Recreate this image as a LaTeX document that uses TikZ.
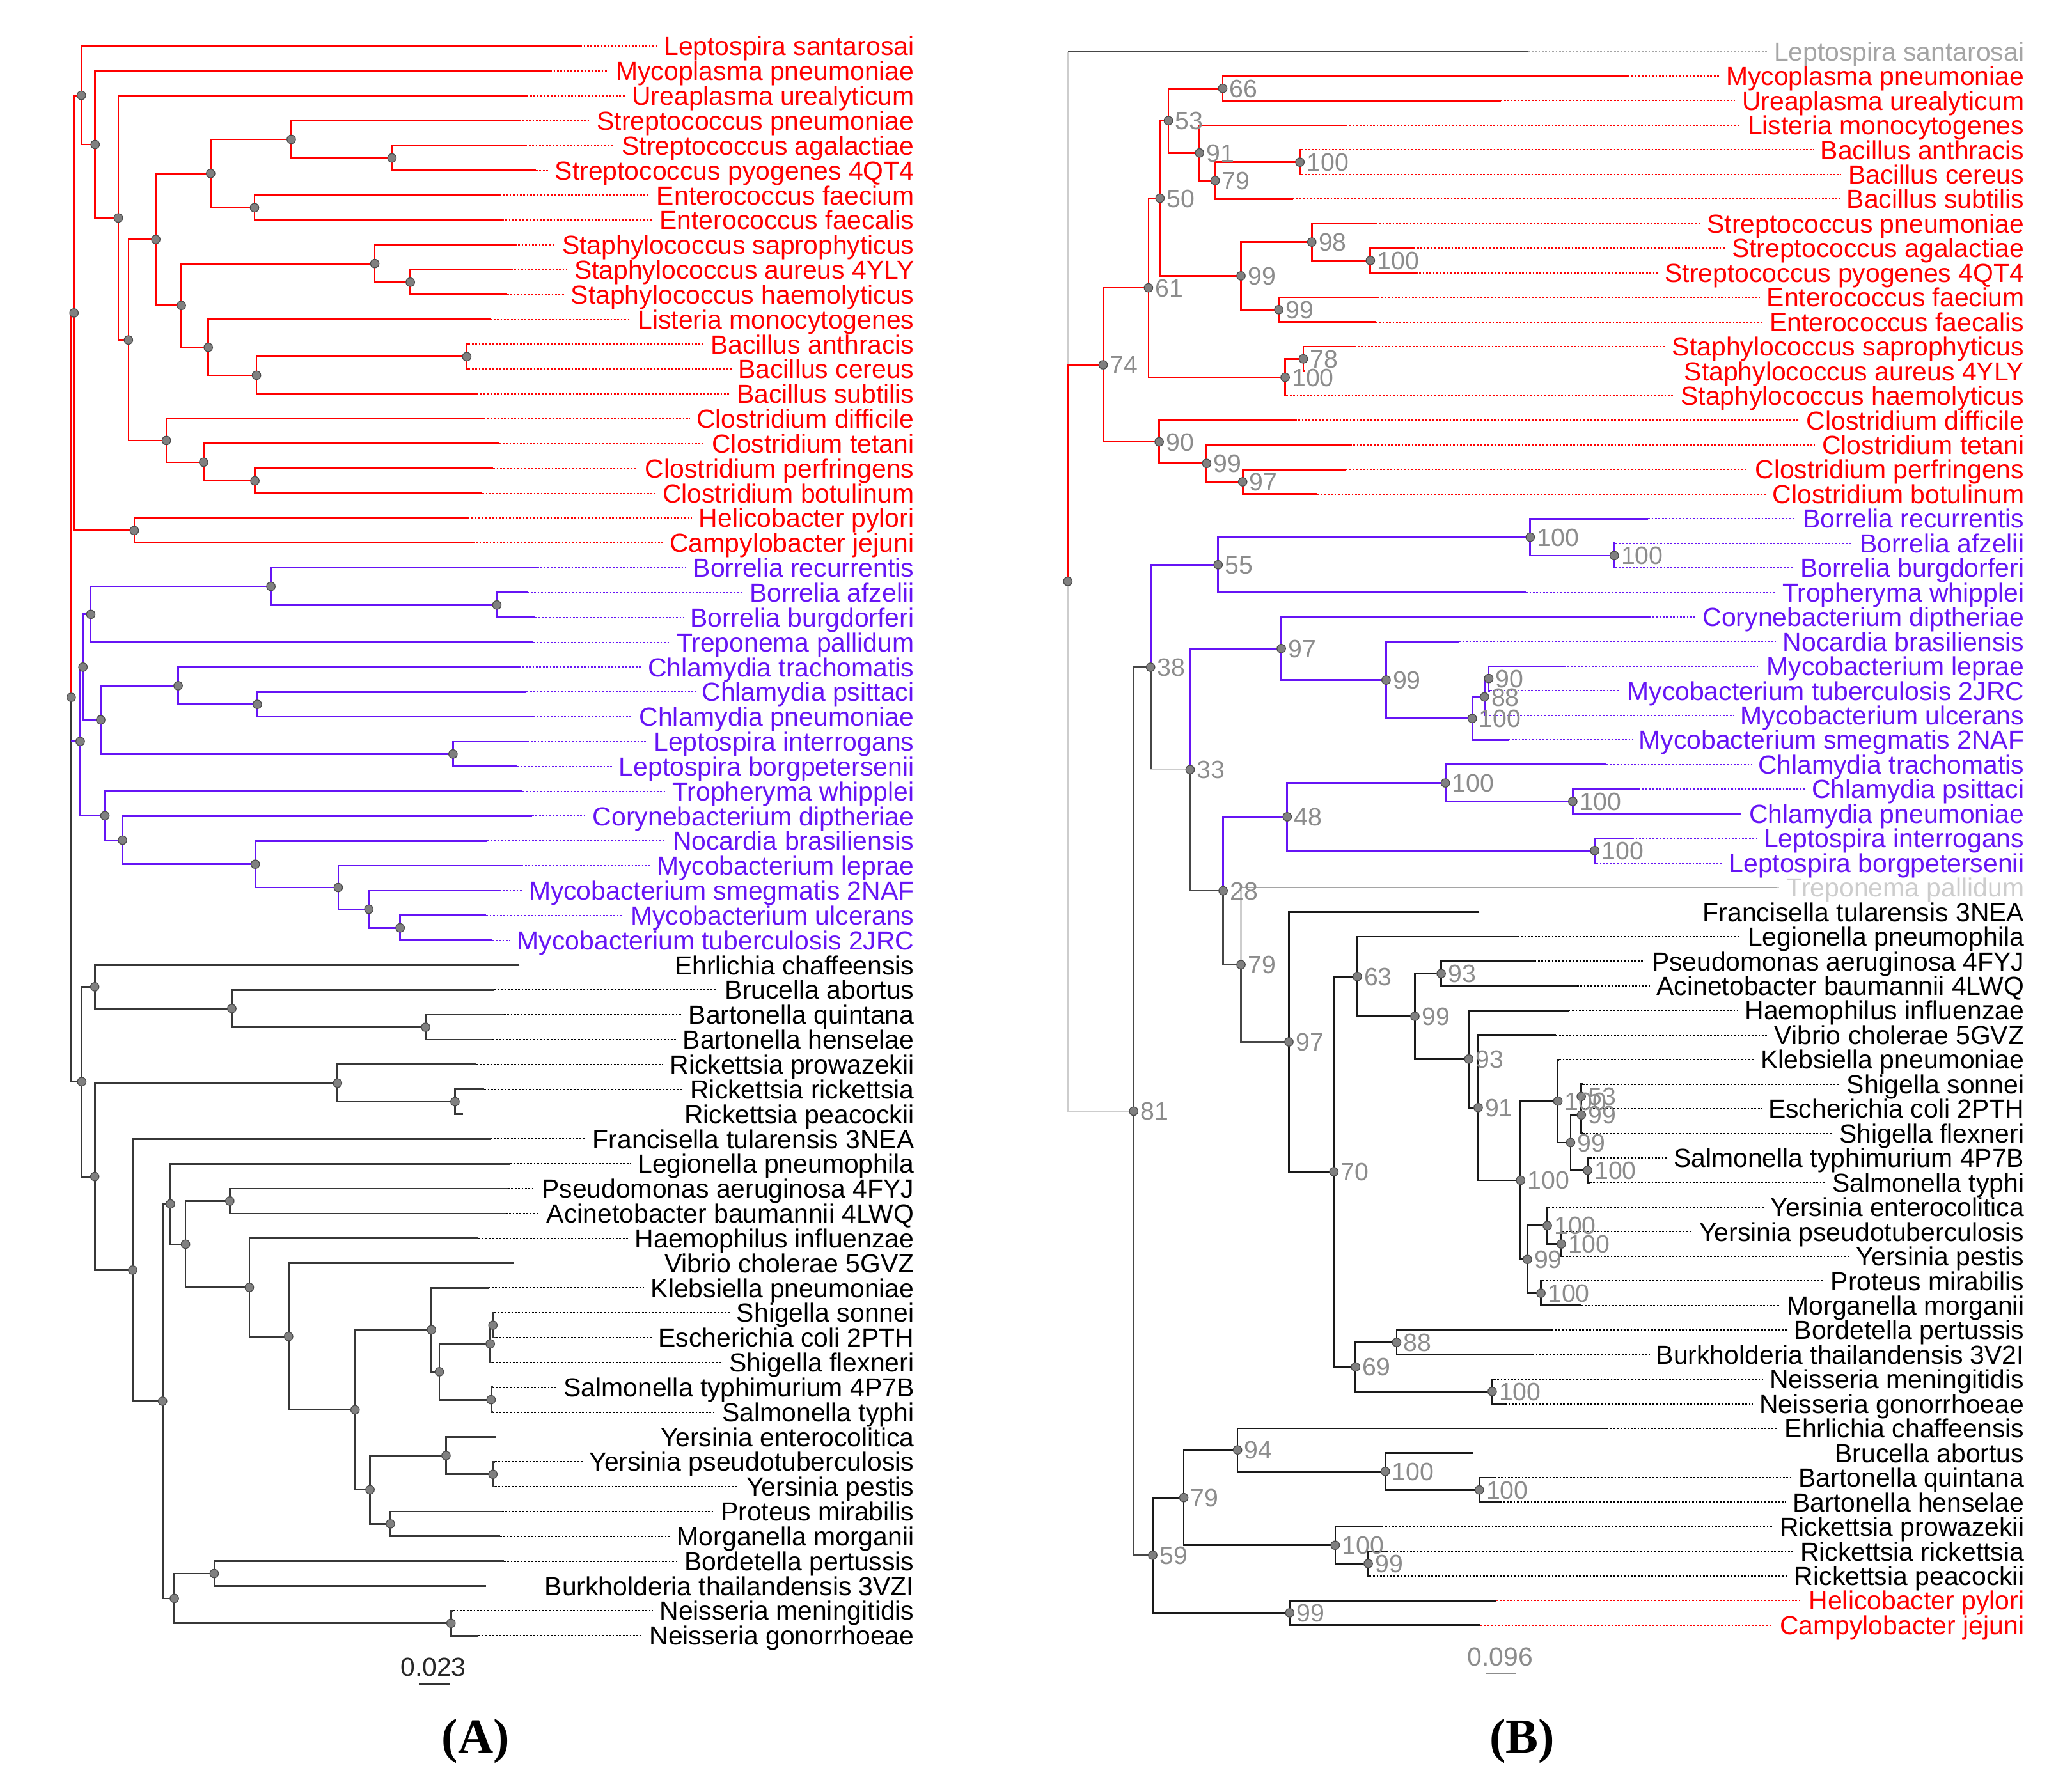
\documentclass[tikz,border=0pt]{standalone}
\usepackage{fontspec}
\setmainfont{Liberation Sans}
\newfontfamily\capfont{Liberation Serif}
\usetikzlibrary{calc}
\pgfdeclarelayer{fg}
\pgfsetlayers{main,fg}
\definecolor{cred}{RGB}{255,0,0}
\definecolor{cblue}{RGB}{102,20,245}
\definecolor{cblkA}{RGB}{55,55,55}
\definecolor{cblk}{RGB}{25,25,25}
\definecolor{clgray}{RGB}{205,205,205}
\definecolor{cmgray}{RGB}{165,165,165}
\definecolor{cdgray}{RGB}{70,70,70}
\definecolor{cboot}{RGB}{140,140,140}
\definecolor{cnode}{RGB}{128,128,128}
\definecolor{cnodeb}{RGB}{75,75,75}
\tikzset{
 br/.style={line width=1.3pt, line join=miter},
 leader/.style={line width=0.9pt, dash pattern=on 1.3pt off 1.3pt},
 lab/.style={anchor=east, inner sep=0pt, font=\fontsize{19.8}{20}\selectfont, text height=14.2pt, text depth=0pt},
 boot/.style={anchor=west, inner sep=0pt, xshift=5pt, text=cboot, font=\fontsize{19}{19}\selectfont, text height=13.6pt, text depth=0pt},
 dotn/.style={circle, inner sep=0pt, minimum size=6.5pt, fill=cnode, draw=cnodeb, line width=0.6pt}
}
\newcommand\tip[5]{%
 \coordinate (#1) at (#2,#3);
 \node[lab,text=\tcol] (#1l) at (#5,#3) {#4};
 \draw[leader,draw=\tcol] (#1) -- ([xshift=-5pt]#1l.west);
}
\newcommand\ta[4]{\tip{#1}{#3}{{35+(#2-1)*18.797}}{#4}{692}}
\newcommand\tb[4]{\tip{#1}{#3}{{39+(#2-1)*18.61}}{#4}{1532}}
\newcommand\inode[4]{%
 \coordinate (tmpm) at ($(#3)!0.5!(#4)$);
 \coordinate (#1) at (#2,0 |- tmpm);
}
\newcommand\dotat[1]{\begin{pgfonlayer}{fg}\node[dotn] at (#1) {};\end{pgfonlayer}}
\newcommand\nd[4]{%
 \inode{#1}{#2}{#3}{#4}
 \draw[br,draw=\lcol] (#3) -| (#1) |- (#4);
 \dotat{#1}
}
\newcommand\bnd[5]{\nd{#1}{#2}{#3}{#4}\begin{pgfonlayer}{fg}\node[boot] at (#1) {#5};\end{pgfonlayer}}
\newcommand\bootat[2]{\begin{pgfonlayer}{fg}\node[boot] at (#1) {#2};\end{pgfonlayer}}
\begin{document}
\begin{tikzpicture}[x=1pt,y=-1pt]
\useasboundingbox (0,0) rectangle (1568,1354);
% ================= PANEL A =================
\def\tcol{cred}
\ta{a1}{1}{439.1}{Leptospira santarosai}
\ta{a2}{2}{416.3}{Mycoplasma pneumoniae}
\ta{a3}{3}{398.5}{Ureaplasma urealyticum}
\ta{a4}{4}{392.6}{Streptococcus pneumoniae}
\ta{a5}{5}{397.6}{Streptococcus agalactiae}
\ta{a6}{6}{405.6}{Streptococcus pyogenes 4QT4}
\ta{a7}{7}{377.8}{Enterococcus faecium}
\ta{a8}{8}{379.9}{Enterococcus faecalis}
\ta{a9}{9}{389.6}{Staphylococcus saprophyticus}
\ta{a10}{10}{386.7}{Staphylococcus aureus 4YLY}
\ta{a11}{11}{383.7}{Staphylococcus haemolyticus}
\ta{a12}{12}{371.0}{Listeria monocytogenes}
\ta{a13}{13}{354.5}{Bacillus anthracis}
\ta{a14}{14}{354.5}{Bacillus cereus}
\ta{a15}{15}{360.6}{Bacillus subtilis}
\ta{a16}{16}{365.9}{Clostridium difficile}
\ta{a17}{17}{377.8}{Clostridium tetani}
\ta{a18}{18}{373.3}{Clostridium perfringens}
\ta{a19}{19}{365.0}{Clostridium botulinum}
\ta{a20}{20}{354.1}{Helicobacter pylori}
\ta{a21}{21}{357.6}{Campylobacter jejuni}
\def\tcol{cblue}
\ta{a22}{22}{406.5}{Borrelia recurrentis}
\ta{a23}{23}{399.1}{Borrelia afzelii}
\ta{a24}{24}{405.0}{Borrelia burgdorferi}
\ta{a25}{25}{403.6}{Treponema pallidum}
\ta{a26}{26}{392.6}{Chlamydia trachomatis}
\ta{a27}{27}{398.5}{Chlamydia psittaci}
\ta{a28}{28}{403.6}{Chlamydia pneumoniae}
\ta{a29}{29}{399.1}{Leptospira interrogans}
\ta{a30}{30}{391.7}{Leptospira borgpetersenii}
\ta{a31}{31}{395.6}{Tropheryma whipplei}
\ta{a32}{32}{402.7}{Corynebacterium diptheriae}
\ta{a33}{33}{368.9}{Nocardia brasiliensis}
\ta{a34}{34}{394.7}{Mycobacterium leprae}
\ta{a35}{35}{377.8}{Mycobacterium smegmatis 2NAF}
\ta{a36}{36}{368.0}{Mycobacterium ulcerans}
\ta{a37}{37}{372.4}{Mycobacterium tuberculosis 2JRC}
\def\tcol{black}
\ta{a38}{38}{393.2}{Ehrlichia chaffeensis}
\ta{a39}{39}{373.9}{Brucella abortus}
\ta{a40}{40}{381.3}{Bartonella quintana}
\ta{a41}{41}{372.4}{Bartonella henselae}
\ta{a42}{42}{360.6}{Rickettsia prowazekii}
\ta{a43}{43}{366.5}{Rickettsia rickettsia}
\ta{a44}{44}{350.2}{Rickettsia peacockii}
\ta{a45}{45}{371.0}{Francisella tularensis 3NEA}
\ta{a46}{46}{385.8}{Legionella pneumophila}
\ta{a47}{47}{384.3}{Pseudomonas aeruginosa 4FYJ}
\ta{a48}{48}{382.8}{Acinetobacter baumannii 4LWQ}
\ta{a49}{49}{362.1}{Haemophilus influenzae}
\ta{a50}{50}{388.7}{Vibrio cholerae 5GVZ}
\ta{a51}{51}{369.5}{Klebsiella pneumoniae}
\ta{a52}{52}{374.0}{Shigella sonnei}
\ta{a53}{53}{375.0}{Escherichia coli 2PTH}
\ta{a54}{54}{372.5}{Shigella flexneri}
\ta{a55}{55}{373.0}{Salmonella typhimurium 4P7B}
\ta{a56}{56}{373.0}{Salmonella typhi}
\ta{a57}{57}{375.4}{Yersinia enterocolitica}
\ta{a58}{58}{374.5}{Yersinia pseudotuberculosis}
\ta{a59}{59}{374.5}{Yersinia pestis}
\ta{a60}{60}{379.9}{Proteus mirabilis}
\ta{a61}{61}{378.4}{Morganella morganii}
\ta{a62}{62}{381.3}{Bordetella pertussis}
\ta{a63}{63}{368.0}{Burkholderia thailandensis 3VZI}
\ta{a64}{64}{342.8}{Neisseria meningitidis}
\ta{a65}{65}{362.1}{Neisseria gonorrhoeae}
% red clade
\def\lcol{cred}
\nd{aN16}{353.2}{a13}{a14}
\nd{aN15}{194.1}{aN16}{a15}
\nd{aN13}{157.6}{a12}{aN15}
\nd{aN14}{310.5}{a10}{a11}
\nd{aN12}{283.6}{a9}{aN14}
\nd{aN8}{137.2}{aN12}{aN13}
\nd{aN11}{296.6}{a5}{a6}
\nd{aN9}{220.4}{a4}{aN11}
\nd{aN10}{192.6}{a7}{a8}
\nd{aN7}{159.4}{aN9}{aN10}
\nd{aN5}{117.9}{aN7}{aN8}
\nd{aN18}{192.9}{a18}{a19}
\nd{aN17}{154.1}{a17}{aN18}
\nd{aN6}{125.9}{a16}{aN17}
\nd{aN4}{97.2}{aN5}{aN6}
\nd{aN3}{89.5}{a3}{aN4}
\nd{aN2}{72.0}{a2}{aN3}
\nd{aN1}{61.6}{a1}{aN2}
\nd{aHC}{101.6}{a20}{a21}
\nd{aR}{56.0}{aN1}{aHC}
% blue clade
\def\lcol{cblue}
\nd{aBa}{376.0}{a23}{a24}
\nd{aBb}{205.0}{a22}{aBa}
\nd{aB2}{68.7}{aBb}{a25}
\nd{aCa}{194.7}{a27}{a28}
\nd{aCb}{134.8}{a26}{aCa}
\nd{aL}{342.8}{a29}{a30}
\nd{aB3}{76.2}{aCb}{aL}
\nd{aB1}{62.8}{aB2}{aB3}
\nd{aM1}{302.8}{a36}{a37}
\nd{aM2}{279.1}{a35}{aM1}
\nd{aM3}{256.0}{a34}{aM2}
\nd{aM4}{193.2}{a33}{aM3}
\nd{aM5}{92.7}{a32}{aM4}
\nd{aM6}{79.4}{a31}{aM5}
\nd{aB0}{60.7}{aB1}{aM6}
% black clade
\def\lcol{cblkA}
\nd{aKba}{322.1}{a40}{a41}
\nd{aKbb}{175.4}{a39}{aKba}
\nd{aKa}{71.7}{a38}{aKbb}
\nd{aKra}{344.3}{a43}{a44}
\nd{aKrb}{255.4}{a42}{aKra}
\nd{aKm}{373.0}{a52}{a53}
\nd{aKl}{371.0}{aKm}{a54}
\nd{aKn}{371.6}{a55}{a56}
\nd{aKk}{332.5}{aKl}{aKn}
\nd{aKj}{326.5}{a51}{aKk}
\nd{aKq}{373.0}{a58}{a59}
\nd{aKp}{337.5}{a57}{aKq}
\nd{aKr}{295.4}{a60}{a61}
\nd{aKo}{280.0}{aKp}{aKr}
\nd{aKi}{268.7}{aKj}{aKo}
\nd{aKh}{218.4}{a50}{aKi}
\nd{aKg}{188.7}{a49}{aKh}
\nd{aKps}{173.9}{a47}{a48}
\nd{aKf}{140.4}{aKps}{aKg}
\nd{aKe}{128.9}{a46}{aKf}
\nd{aKt}{162.1}{a62}{a63}
\nd{aKu}{341.3}{a64}{a65}
\nd{aKs}{131.9}{aKt}{aKu}
\nd{aKd}{123.0}{aKe}{aKs}
\nd{aKc}{100.4}{a45}{aKd}
\nd{aKb}{71.7}{aKrb}{aKc}
\nd{aK0}{61.9}{aKa}{aKb}
% root A
\inode{aRoot}{53.9}{aR}{aK0}
\draw[br,cred] (aR) -| (aRoot);
\draw[br,cblkA] (aRoot) |- (aK0);
\draw[br,cblue] (aB0 -| aRoot) -- (aB0);
\dotat{aRoot}
% scale bar A
\node[inner sep=0pt, text=black!85, font=\fontsize{19.8}{20}\selectfont] (scA) at (327.9,1261.9) {0.023};
\draw[line width=1.2pt, black!80] (317,1274.4) coordinate (scA1) -- (340.7,1274.4) coordinate (scA2);
\node[font=\capfont\bfseries\fontsize{37}{40}\selectfont, inner sep=0pt] (capA) at (360,1318) {(A)};
% ================= PANEL B =================
\def\tcol{cmgray}
\tb{bt1}{1}{1156.4}{Leptospira santarosai}
\def\tcol{cred}
\tb{bt2}{2}{1231.9}{Mycoplasma pneumoniae}
\tb{bt3}{3}{1135.6}{Ureaplasma urealyticum}
\tb{bt4}{4}{1018.4}{Listeria monocytogenes}
\tb{bt5}{5}{984.7}{Bacillus anthracis}
\tb{bt6}{6}{984.7}{Bacillus cereus}
\tb{bt7}{7}{978.3}{Bacillus subtilis}
\tb{bt8}{8}{1040.9}{Streptococcus pneumoniae}
\tb{bt9}{9}{1069.8}{Streptococcus agalactiae}
\tb{bt10}{10}{1071.4}{Streptococcus pyogenes 4QT4}
\tb{bt11}{11}{1042.5}{Enterococcus faecium}
\tb{bt12}{12}{1040.9}{Enterococcus faecalis}
\tb{bt13}{13}{1024.8}{Staphylococcus saprophyticus}
\tb{bt14}{14}{987.5}{Staphylococcus aureus 4YLY}
\tb{bt15}{15}{973.5}{Staphylococcus haemolyticus}
\tb{bt16}{16}{979.9}{Clostridium difficile}
\tb{bt17}{17}{1021.6}{Clostridium tetani}
\tb{bt18}{18}{1018.4}{Clostridium perfringens}
\tb{bt19}{19}{996.9}{Clostridium botulinum}
\def\tcol{cblue}
\tb{bt20}{20}{1247.3}{Borrelia recurrentis}
\tb{bt21}{21}{1222.6}{Borrelia afzelii}
\tb{bt22}{22}{1222.6}{Borrelia burgdorferi}
\tb{bt23}{23}{1154.8}{Tropheryma whipplei}
\tb{bt24}{24}{1247.9}{Corynebacterium diptheriae}
\tb{bt25}{25}{1104.1}{Nocardia brasiliensis}
\tb{bt26}{26}{1183.7}{Mycobacterium leprae}
\tb{bt27}{27}{1127.6}{Mycobacterium tuberculosis 2JRC}
\tb{bt28}{28}{1124.4}{Mycobacterium ulcerans}
\tb{bt29}{29}{1141.4}{Mycobacterium smegmatis 2NAF}
\tb{bt30}{30}{1215.8}{Chlamydia trachomatis}
\tb{bt31}{31}{1239.9}{Chlamydia psittaci}
\tb{bt32}{32}{1316.0}{Chlamydia pneumoniae}
\tb{bt33}{33}{1235.1}{Leptospira interrogans}
\tb{bt34}{34}{1208.0}{Leptospira borgpetersenii}
\def\tcol{clgray}
\tb{bt35}{35}{1345.0}{Treponema pallidum}
\def\tcol{black}
\tb{bt36}{36}{1119.5}{Francisella tularensis 3NEA}
\tb{bt37}{37}{1148.4}{Legionella pneumophila}
\tb{bt38}{38}{1161.3}{Pseudomonas aeruginosa 4FYJ}
\tb{bt39}{39}{1193.4}{Acinetobacter baumannii 4LWQ}
\tb{bt40}{40}{1187.0}{Haemophilus influenzae}
\tb{bt41}{41}{1177.3}{Vibrio cholerae 5GVZ}
\tb{bt42}{42}{1180.0}{Klebsiella pneumoniae}
\tb{bt43}{43}{1197.7}{Shigella sonnei}
\tb{bt44}{44}{1197.7}{Escherichia coli 2PTH}
\tb{bt45}{45}{1197.7}{Shigella flexneri}
\tb{bt46}{46}{1203.0}{Salmonella typhimurium 4P7B}
\tb{bt47}{47}{1203.0}{Salmonella typhi}
\tb{bt48}{48}{1172.0}{Yersinia enterocolitica}
\tb{bt49}{49}{1182.5}{Yersinia pseudotuberculosis}
\tb{bt50}{50}{1182.5}{Yersinia pestis}
\tb{bt51}{51}{1167.5}{Proteus mirabilis}
\tb{bt52}{52}{1196.6}{Morganella morganii}
\tb{bt53}{53}{1174.1}{Bordetella pertussis}
\tb{bt54}{54}{1159.6}{Burkholderia thailandensis 3V2I}
\tb{bt55}{55}{1130.5}{Neisseria meningitidis}
\tb{bt56}{56}{1138.8}{Neisseria gonorrhoeae}
\tb{bt57}{57}{1215.8}{Ehrlichia chaffeensis}
\tb{bt58}{58}{1114.7}{Brucella abortus}
\tb{bt59}{59}{1130.8}{Bartonella quintana}
\tb{bt60}{60}{1135.0}{Bartonella henselae}
\tb{bt61}{61}{1045.7}{Rickettsia prowazekii}
\tb{bt62}{62}{1048.9}{Rickettsia rickettsia}
\tb{bt63}{63}{1036.5}{Rickettsia peacockii}
\def\tcol{cred}
\tb{bt64}{64}{1132.4}{Helicobacter pylori}
\tb{bt65}{65}{1120.5}{Campylobacter jejuni}
% red clade B
\def\lcol{cred}
\bnd{n66}{925.3}{bt2}{bt3}{66}
\bnd{n100ba}{983.7}{bt5}{bt6}{100}
\bnd{n79}{919.5}{n100ba}{bt7}{79}
\bnd{n91}{907.7}{bt4}{n79}{91}
\bnd{n53}{884.2}{n66}{n91}{53}
\bnd{n100st}{1037.0}{bt9}{bt10}{100}
\bnd{n98}{992.7}{bt8}{n100st}{98}
\bnd{n99e}{967.7}{bt11}{bt12}{99}
\bnd{n99s}{939.1}{n98}{n99e}{99}
\bnd{n50}{877.8}{n53}{n99s}{50}
\bnd{n78}{986.3}{bt13}{bt14}{78}
\bnd{n100sa}{972.5}{n78}{bt15}{100}
\bnd{n61}{869.1}{n50}{n100sa}{61}
\bnd{n97c}{940.4}{bt18}{bt19}{97}
\bnd{n99c}{913.1}{bt17}{n97c}{99}
\bnd{n90}{877.2}{bt16}{n99c}{90}
\bnd{n74}{834.8}{n61}{n90}{74}
% blue clade B
\def\lcol{cblue}
\bnd{n100bo2}{1221.6}{bt21}{bt22}{100}
\bnd{n100bo}{1158.0}{bt20}{n100bo2}{100}
\bnd{n55}{921.8}{n100bo}{bt23}{55}
\bnd{n90m}{1126.6}{bt26}{bt27}{90}
\bnd{n88}{1123.4}{n90m}{bt28}{88}
\bnd{n100m}{1114.1}{n88}{bt29}{100}
\bnd{n99m}{1048.9}{bt25}{n100m}{99}
\bnd{n97m}{969.6}{bt24}{n99m}{97}
\bnd{n100ch2}{1190.2}{bt31}{bt32}{100}
\bnd{n100ch}{1093.8}{bt30}{n100ch2}{100}
\bnd{n100l}{1206.8}{bt33}{bt34}{100}
\bnd{n48}{974.1}{n100ch}{n100l}{48}
% gamma clade B
\def\lcol{cblk}
\bnd{n93p}{1090.6}{bt38}{bt39}{93}
\bnd{n53s}{1196.6}{bt43}{bt44}{53}
\bnd{n99x}{1196.7}{n53s}{bt45}{99}
\bnd{n100sal}{1201.4}{bt46}{bt47}{100}
\bnd{n99k}{1188.5}{n99x}{n100sal}{99}
\bnd{n100c}{1178.9}{bt42}{n99k}{100}
\bnd{n100y2}{1181.5}{bt49}{bt50}{100}
\bnd{n100y}{1170.9}{bt48}{n100y2}{100}
\bnd{n100p}{1166.1}{bt51}{bt52}{100}
\bnd{n99y}{1155.8}{n100y}{n100p}{99}
\bnd{n100g}{1150.7}{n100c}{n99y}{100}
\bnd{n91g}{1118.6}{bt41}{n100g}{91}
\bnd{n93h}{1111.5}{bt40}{n91g}{93}
\bnd{n99g}{1070.7}{n93p}{n93h}{99}
\bnd{n63}{1027.1}{bt37}{n99g}{63}
\bnd{n88n}{1056.9}{bt53}{bt54}{88}
\bnd{n100n}{1129.2}{bt55}{bt56}{100}
\bnd{n69}{1025.8}{n88n}{n100n}{69}
\bnd{n70}{1009.4}{n63}{n69}{70}
\bnd{n97g}{975.4}{bt36}{n70}{97}
% alpha + epsilon B
\bnd{n100bt}{1119.5}{bt59}{bt60}{100}
\bnd{n100b}{1048.3}{bt58}{n100bt}{100}
\bnd{n94}{936.5}{bt57}{n100b}{94}
\bnd{n99r}{1035.4}{bt62}{bt63}{99}
\bnd{n100r}{1010.4}{bt61}{n99r}{100}
\bnd{n79a}{895.8}{n94}{n100r}{79}
\bnd{n99h}{976.0}{bt64}{bt65}{99}
\bnd{n59}{872.3}{n79a}{n99h}{59}
% mixed-colour nodes
\inode{n79t}{939.1}{bt35}{n97g}
\draw[br,cmgray] (bt35) -- (bt35 -| n79t);
\draw[br,clgray] (bt35 -| n79t) -- (n79t);
\draw[br,cdgray] (n79t) |- (n97g);
\dotat{n79t}\bootat{n79t}{79}
\inode{n28}{925.6}{n48}{n79t}
\draw[br,cblue] (n48) -| (n28);
\draw[br,cdgray] (n28) |- (n79t);
\dotat{n28}\bootat{n28}{28}
\inode{n33}{900.6}{n97m}{n28}
\draw[br,cblue] (n97m) -| (n33);
\draw[br,cdgray] (n33) |- (n28);
\dotat{n33}\bootat{n33}{33}
\inode{n38}{870.7}{n55}{n33}
\draw[br,cblue] (n55) -| (n38);
\draw[br,cdgray] (n38) -- (n38 |- n33);
\draw[br,clgray] (n38 |- n33) -- (n33);
\dotat{n38}\bootat{n38}{38}
\inode{n81}{857.9}{n38}{n59}
\draw[br,cdgray] (n38) -| (n81) |- (n59);
\dotat{n81}\bootat{n81}{81}
% root B
\inode{nRoot}{808.1}{bt1}{n81}
\draw[br,cdgray] (bt1 -| nRoot) -- (bt1);
\draw[br,clgray] (bt1 -| nRoot) -- (n74 -| nRoot);
\draw[br,cred] (n74) -| (nRoot);
\draw[br,clgray] (nRoot) |- (n81);
\dotat{nRoot}
% scale bar B
\node[inner sep=0pt, text=cboot, font=\fontsize{19.8}{20}\selectfont] (scB) at (1135.3,1254) {0.096};
\draw[line width=1.2pt, cboot] (1124.4,1266.4) coordinate (scB1) -- (1147.3,1266.4) coordinate (scB2);
\node[font=\capfont\bfseries\fontsize{37}{40}\selectfont, inner sep=0pt] (capB) at (1152,1318) {(B)};
\end{tikzpicture}
\end{document}
